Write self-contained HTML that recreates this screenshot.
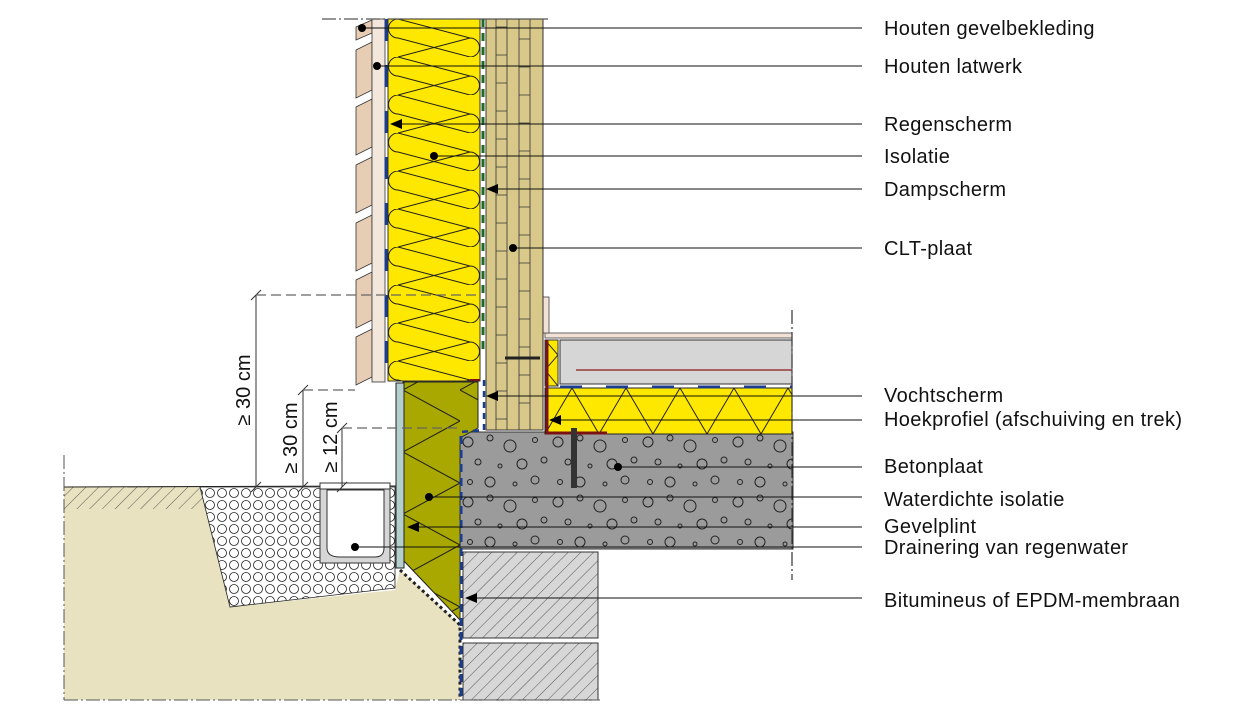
<!DOCTYPE html>
<html><head><meta charset="utf-8"><style>
html,body{margin:0;padding:0;background:#fff;}
svg{display:block;}
text{font-family:"Liberation Sans",sans-serif;}
</style></head><body>
<svg width="1248" height="712" viewBox="0 0 1248 712" xmlns="http://www.w3.org/2000/svg">
<defs>
<pattern id="wool" x="388" y="19" width="92" height="38" patternUnits="userSpaceOnUse">
<path d="M10,0 L82,19 M82,19 A9.5,9.5 0 0 1 82,38 M82,38 L10,19 M10,19 A9.5,9.5 0 0 1 10,0 M10,38 L82,19" fill="none" stroke="#222" stroke-width="1"/>
</pattern>
<pattern id="zig" x="545" y="388" width="54" height="46" patternUnits="userSpaceOnUse">
<path d="M0,46 L27,0 L54,46" fill="none" stroke="#222" stroke-width="1"/>
</pattern>
<pattern id="zigv" x="403" y="390" width="57" height="62" patternUnits="userSpaceOnUse">
<path d="M0,0 L57,31 L0,62" fill="none" stroke="#222" stroke-width="1"/>
</pattern>
<pattern id="conc" x="460" y="432" width="90" height="60" patternUnits="userSpaceOnUse">
<g fill="none" stroke="#222" stroke-width="1">
<circle cx="8" cy="10" r="5"/><circle cx="30" cy="6" r="3"/><circle cx="50" cy="14" r="6"/><circle cx="75" cy="8" r="2.5"/>
<circle cx="18" cy="30" r="3"/><circle cx="40" cy="34" r="2"/><circle cx="62" cy="32" r="5"/><circle cx="84" cy="28" r="3"/>
<circle cx="10" cy="50" r="2.5"/><circle cx="30" cy="50" r="5"/><circle cx="55" cy="52" r="2"/><circle cx="75" cy="48" r="4"/>
</g></pattern>
<pattern id="hatch" width="9" height="9" patternUnits="userSpaceOnUse" patternTransform="rotate(45)">
<line x1="0" y1="0" x2="0" y2="9" stroke="#333" stroke-width="0.8"/>
</pattern>
<pattern id="grav" x="0" y="487" width="12" height="12" patternUnits="userSpaceOnUse">
<circle cx="6" cy="6" r="4.5" fill="#fff" stroke="#222" stroke-width="0.8"/>
</pattern>
<pattern id="clt" x="486" y="19" width="57" height="56" patternUnits="userSpaceOnUse">
<path d="M10,0V56M21,0V56M33,0V56M44,0V56M10,8H21M33,20H44M10,36H21M33,48H44" stroke="#333" stroke-width="0.8"/>
</pattern>
</defs>

<polygon points="64,487 200,487 230,607 395,590 400,570 460,625 460,700 64,700" fill="#e8e2c0"/>
<rect x="64" y="487" width="140" height="22" fill="#e8e2c0"/>
<rect x="64" y="487" width="140" height="22" fill="url(#hatch)"/>
<line x1="64" y1="487" x2="400" y2="486" stroke="#222" stroke-width="1"/>
<polygon points="200,487 395,487 395,588 230,607" fill="#fff"/>
<polygon points="200,487 395,487 395,588 230,607" fill="url(#grav)" stroke="#222" stroke-width="0.8"/>
<rect x="320" y="485" width="70" height="78" fill="#d6d6d6" stroke="#333"/>
<path d="M327,490 V548 Q327,557 340,557 H375 Q384,557 384,548 V490 Z" fill="#fff" stroke="#333"/>
<rect x="320" y="483" width="70" height="6" fill="#fff" stroke="#333"/>
<polyline points="400,570 460,625 460,700" fill="none" stroke="#222" stroke-width="3" stroke-dasharray="3,3"/>

<rect x="463" y="552" width="135" height="86" fill="#d7d7d7" stroke="#333"/>
<rect x="463" y="552" width="135" height="86" fill="url(#hatch)"/>
<rect x="463" y="643" width="135" height="57" fill="#d7d7d7" stroke="#333"/>
<rect x="463" y="643" width="135" height="57" fill="url(#hatch)"/>

<rect x="460" y="432" width="333" height="117" fill="#9b9b9b" stroke="#333"/>
<rect x="460" y="432" width="333" height="117" fill="url(#conc)"/>

<polygon points="403,382 478,382 478,428 460,438 460,620 403,560" fill="#a9a800" stroke="#222"/>
<polygon points="403,382 478,382 478,428 460,438 460,620 403,560" fill="url(#zigv)"/>
<line x1="461" y1="436" x2="461" y2="700" stroke="#1a3d8f" stroke-width="3" stroke-dasharray="8,6"/>
<rect x="396" y="383" width="8" height="185" fill="#b4cfcc" stroke="#222"/>

<rect x="545" y="388" width="247" height="46" fill="#ffe800" stroke="#222"/>
<rect x="545" y="388" width="247" height="46" fill="url(#zig)"/>
<line x1="560" y1="387" x2="792" y2="387" stroke="#1a3d8f" stroke-width="3" stroke-dasharray="22,24"/>
<rect x="560" y="340" width="232" height="44" fill="#d6d6d6" stroke="#333"/>
<line x1="576" y1="370" x2="792" y2="370" stroke="#8b1a1a" stroke-width="1.2"/>
<rect x="545" y="333" width="247" height="5" fill="#f2e2d5" stroke="#444" stroke-width="0.8"/>
<rect x="543" y="297" width="6" height="36" fill="#f2e2d5" stroke="#444" stroke-width="0.8"/>
<rect x="545" y="340" width="13" height="46" fill="#ffe800" stroke="#333"/>
<path d="M545,340 L558,355 L545,370 L558,386" fill="none" stroke="#333"/>
<polyline points="547,340 547,433 607,433" fill="none" stroke="#7a1212" stroke-width="3"/>
<rect x="571" y="428" width="6" height="60" fill="#333"/>

<g fill="#e6cdb4" stroke="#333" stroke-width="0.8">
<polygon points="356,27 372,20 372,33 356,40"/>
<polygon points="356,50 372,42 372,90 356,98"/>
<polygon points="356,107 372,99 372,147 356,155"/>
<polygon points="356,165 372,157 372,205 356,213"/>
<polygon points="356,223 372,215 372,263 356,271"/>
<polygon points="356,280 372,272 372,320 356,328"/>
<polygon points="356,337 372,329 372,377 356,385"/>
</g>
<rect x="372" y="19" width="13" height="363" fill="#f3e7dc" stroke="#333" stroke-width="0.8"/>
<line x1="386" y1="19" x2="386" y2="380" stroke="#1a3d8f" stroke-width="3" stroke-dasharray="22,24"/>
<rect x="388" y="19" width="92" height="362" fill="#ffe800" stroke="#333"/>
<rect x="388" y="19" width="92" height="362" fill="url(#wool)"/>
<line x1="483" y1="19" x2="483" y2="350" stroke="#1f6b1f" stroke-width="3" stroke-dasharray="8,6"/>
<rect x="486" y="19" width="57" height="411" fill="#d8c98a" stroke="#333"/>
<rect x="486" y="19" width="57" height="411" fill="url(#clt)"/>
<polyline points="484,380 484,430 460,432" fill="none" stroke="#1a3d8f" stroke-width="2.5" stroke-dasharray="6,5"/>
<line x1="470" y1="380" x2="480" y2="380" stroke="#7a1212" stroke-width="2"/>
<line x1="505" y1="358" x2="540" y2="358" stroke="#222" stroke-width="3"/>

<line x1="322" y1="19" x2="548" y2="19" stroke="#555" stroke-width="1.2" stroke-dasharray="14,3,2,3"/>
<line x1="792" y1="310" x2="792" y2="580" stroke="#333" stroke-width="1.2" stroke-dasharray="14,3,2,3"/>
<line x1="64" y1="455" x2="64" y2="700" stroke="#555" stroke-width="1" stroke-dasharray="14,3,2,3"/>
<line x1="64" y1="700" x2="600" y2="700" stroke="#555" stroke-width="1" stroke-dasharray="14,3,2,3"/>

<g stroke="#333" stroke-width="1" fill="none">
<line x1="256" y1="295" x2="256" y2="487"/>
<line x1="303" y1="390" x2="303" y2="487"/>
<line x1="342" y1="428" x2="342" y2="487"/>
<line x1="251" y1="300" x2="261" y2="290"/><line x1="251" y1="492" x2="261" y2="482"/>
<line x1="298" y1="395" x2="308" y2="385"/><line x1="298" y1="492" x2="308" y2="482"/>
<line x1="337" y1="433" x2="347" y2="423"/><line x1="337" y1="492" x2="347" y2="482"/>
</g>
<g stroke="#666" stroke-width="1.2" stroke-dasharray="10,5">
<line x1="256" y1="295" x2="480" y2="295"/>
<line x1="303" y1="390" x2="355" y2="390"/>
<line x1="342" y1="428" x2="460" y2="428"/>
</g>
<g font-size="20" fill="#111">
<text transform="translate(250,390) rotate(-90)" text-anchor="middle">≥ 30 cm</text>
<text transform="translate(297,438) rotate(-90)" text-anchor="middle">≥ 30 cm</text>
<text transform="translate(337,437) rotate(-90)" text-anchor="middle">≥ 12 cm</text>
</g>

<g stroke="#111" stroke-width="1.1">
<line x1="362" y1="28" x2="862" y2="28"/>
<line x1="377" y1="66" x2="862" y2="66"/>
<line x1="392" y1="124" x2="862" y2="124"/>
<line x1="434" y1="156" x2="862" y2="156"/>
<line x1="488" y1="189" x2="862" y2="189"/>
<line x1="513" y1="248" x2="862" y2="248"/>
<line x1="488" y1="396" x2="862" y2="396"/>
<line x1="550" y1="420" x2="862" y2="420"/>
<line x1="618" y1="467" x2="862" y2="467"/>
<line x1="429" y1="497" x2="862" y2="497"/>
<line x1="408" y1="527" x2="862" y2="527"/>
<line x1="355" y1="547" x2="862" y2="547"/>
<line x1="466" y1="598" x2="862" y2="598"/>
</g>
<g fill="#000">
<circle cx="362" cy="28" r="4"/><circle cx="377" cy="66" r="4"/><circle cx="434" cy="156" r="4"/>
<circle cx="513" cy="248" r="4"/><circle cx="618" cy="467" r="4"/><circle cx="429" cy="497" r="4"/><circle cx="355" cy="547" r="4"/>
<polygon points="390,124 402,119 402,129"/>
<polygon points="486,189 498,184 498,194"/>
<polygon points="486,396 498,391 498,401"/>
<polygon points="549,420 561,415 561,425"/>
<polygon points="407,527 419,522 419,532"/>
<polygon points="465,598 477,593 477,603"/>
</g>
<g font-size="20" fill="#111" letter-spacing="0.35">
<text x="884" y="35">Houten gevelbekleding</text>
<text x="884" y="73">Houten latwerk</text>
<text x="884" y="131">Regenscherm</text>
<text x="884" y="163">Isolatie</text>
<text x="884" y="196">Dampscherm</text>
<text x="884" y="255">CLT-plaat</text>
<text x="884" y="402">Vochtscherm</text>
<text x="884" y="426">Hoekprofiel (afschuiving en trek)</text>
<text x="884" y="473">Betonplaat</text>
<text x="884" y="506">Waterdichte isolatie</text>
<text x="884" y="533">Gevelplint</text>
<text x="884" y="554">Drainering van regenwater</text>
<text x="884" y="607">Bitumineus of EPDM-membraan</text>
</g>
</svg>
</body></html>
